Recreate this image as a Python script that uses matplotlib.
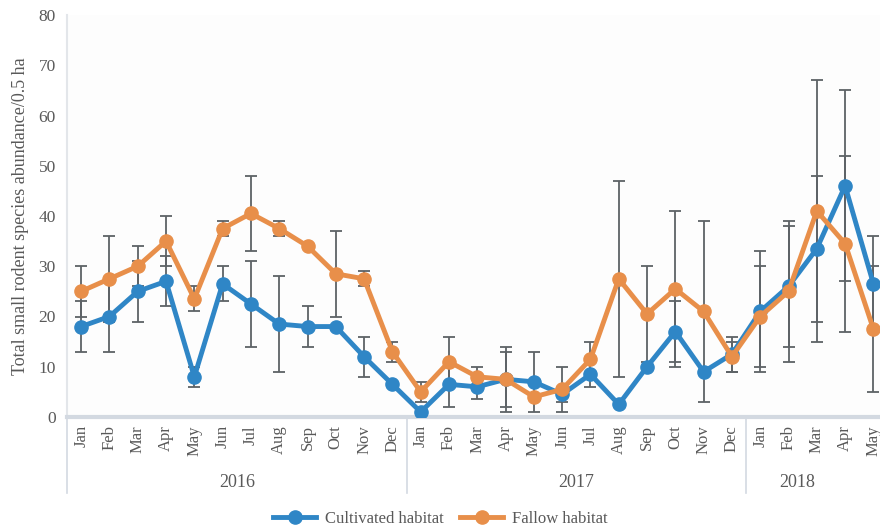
import numpy as np
import matplotlib
matplotlib.use('Agg')
import matplotlib.pyplot as plt
import matplotlib.transforms as mtransforms

plt.rcParams['font.family'] = ['Liberation Serif', 'DejaVu Serif']

# Data
months = ['Jan', 'Feb', 'Mar', 'Apr', 'May', 'Jun', 'Jul', 'Aug', 'Sep', 'Oct', 'Nov', 'Dec',
          'Jan', 'Feb', 'Mar', 'Apr', 'May', 'Jun', 'Jul', 'Aug', 'Sep', 'Oct', 'Nov', 'Dec',
          'Jan', 'Feb', 'Mar', 'Apr', 'May']
years = ['2016', '2017', '2018']
year_months = [12, 12, 5]

cultivated = [18, 20, 25, 27, 8, 26.5, 22.5, 18.5, 18, 18, 12, 6.5,
              1, 6.5, 6, 7.5, 7, 4.5, 8.5, 2.5, 10, 17, 9, 12.5,
              21, 26, 33.5, 46, 26.5]
cultivated_err = [5, 7, 6, 5, 2, 3.5, 8.5, 9.5, 4, 0, 4, 0,
                  0, 4.5, 2.5, 5.5, 6, 1.5, 2.5, 0, 0, 6, 0, 3.5,
                  12, 12, 14.5, 19, 9.5]
fallow = [25, 27.5, 30, 35, 23.5, 37.5, 40.5, 37.5, 34, 28.5, 27.5, 13,
          5, 11, 8, 7.5, 4, 5.5, 11.5, 27.5, 20.5, 25.5, 21, 12,
          20, 25, 41, 34.5, 17.5]
fallow_err = [5, 8.5, 4, 5, 2.5, 1.5, 7.5, 1.5, 0, 8.5, 1.5, 2,
              2, 5, 2, 6.5, 0, 4.5, 3.5, 19.5, 9.5, 15.5, 18, 3,
              10, 14, 26, 17.5, 12.5]

blue = '#2f86c6'
orange = '#e88f4a'
err_color = '#5d6266'
text_color = '#595959'

fig = plt.figure(figsize=(8.8, 5.3), dpi=100)
ax = fig.add_axes([67 / 880, 1 - 417 / 530, (880 - 67) / 880, (417 - 15) / 530])

x = np.arange(len(months))

# error bars behind the lines
for vals, errs in [(cultivated, cultivated_err), (fallow, fallow_err)]:
    ax.errorbar(x, vals, yerr=errs, fmt='none', ecolor=err_color, elinewidth=1.3,
                capsize=4, capthick=1.3, zorder=2)

ax.plot(x, cultivated, color=blue, lw=3.5, marker='o', ms=9.5, label='Cultivated habitat', zorder=3)
ax.plot(x, fallow, color=orange, lw=3.5, marker='o', ms=9.5, label='Fallow habitat', zorder=4)

ax.set_xlim(-0.5, (880 - 81) / 28.3)
ax.set_ylim(0, 80)
ax.set_yticks(range(0, 81, 10))
ax.tick_params(axis='y', length=0, labelsize=12.5, labelcolor=text_color, pad=8)
ax.set_xticks(x)
ax.set_xticklabels(months, rotation=90, fontsize=12, color=text_color)
ax.tick_params(axis='x', length=0, pad=6)

ax.set_ylabel('Total small rodent species abundance/0.5 ha', fontsize=13, color=text_color, labelpad=7)

ax.set_facecolor('#fdfdfd')
for side in ['top', 'right']:
    ax.spines[side].set_visible(False)
ax.spines['left'].set_color('#e3e6ea')
ax.spines['left'].set_linewidth(1.5)
ax.spines['bottom'].set_color('#d3d9e1')
ax.spines['bottom'].set_linewidth(3)

# year groups below the month labels
trans = mtransforms.blended_transform_factory(ax.transData, ax.transAxes)
start = 0
bounds = [-0.5]
for yr, n in zip(years, year_months):
    end = start + n
    bounds.append(end - 0.5)
    mid = (start + end - 1) / 2
    if yr == '2018':
        mid = start + 1.3
    ax.text(mid, -0.162, yr, transform=trans, ha='center', va='center',
            fontsize=13, color=text_color)
    start = end
for b in bounds[:-1]:
    ax.plot([b, b], [0, -0.19], transform=trans, color='#d3d9e1', lw=1.2, clip_on=False)

ax.legend(loc='center', bbox_to_anchor=(0.459, -0.254), ncol=2, frameon=False,
          fontsize=12, handlelength=2.6, handletextpad=0.5, columnspacing=1.0,
          labelcolor=text_color, borderpad=0.2)

fig.savefig('out.png', dpi=100)
